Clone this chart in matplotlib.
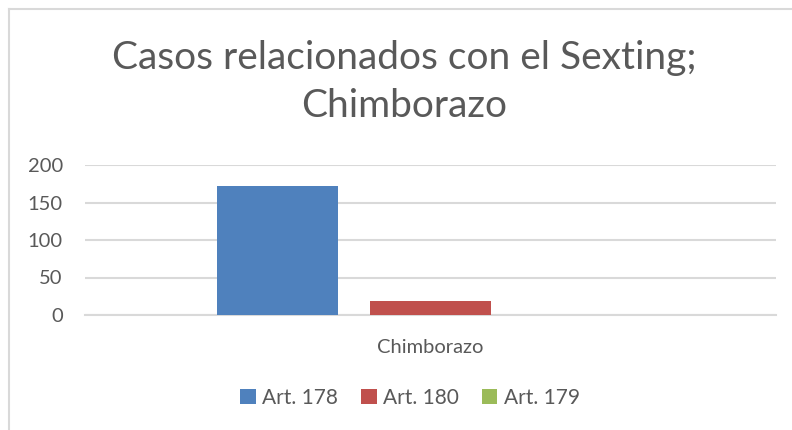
import matplotlib.pyplot as plt
from matplotlib.lines import Line2D
from matplotlib.patches import Patch

# data
categories = ["Chimborazo"]
series_names = ["Art. 178", "Art. 180", "Art. 179"]
series_values = [172, 19, 0]
series_colors = ["#4f81bd", "#c0504d", "#9bbb59"]
y_ticks = [0, 50, 100, 150, 200]

text_grey = "#595959"
grid_grey = "#d9d9d9"
plt.rcParams['font.family'] = ['Lato', 'DejaVu Sans']

fig = plt.figure(figsize=(7.92, 4.30), dpi=100)
W, H = 792, 430
# plot area in pixels: x 85..776, y 165..315
ax = fig.add_axes([85 / W, (H - 315) / H, (776 - 85) / W, 150 / H])

bar_w = 121
step = 153
for i, (name, val, col) in enumerate(zip(series_names, series_values, series_colors)):
    ax.bar((i - 1) * step, val, width=bar_w, color=col, label=name, zorder=3)

ax.set_xlim(-345, 346)
ax.set_ylim(0, 200)
ax.set_yticks(y_ticks)
ax.set_xticks([0])
ax.set_xticklabels(categories)
ax.tick_params(axis='both', length=0, labelsize=14.5, colors=text_grey)
ax.tick_params(axis='y', pad=16)
ax.tick_params(axis='x', pad=17)
ax.grid(axis='y', color=grid_grey, linewidth=1.5, zorder=0)
for side in ['top', 'right', 'left']:
    ax.spines[side].set_visible(False)
ax.spines['bottom'].set_color(grid_grey)
ax.spines['bottom'].set_linewidth(1.5)

fig.text(404 / W, 1 - 82 / H, "Casos relacionados con el Sexting;\nChimborazo",
         ha='center', va='center', fontsize=28, color=text_grey, linespacing=1.42)

handles = [Patch(facecolor=c, label=n) for n, c in zip(series_names, series_colors)]
fig.legend(handles=handles, loc='center', bbox_to_anchor=(410 / W, 1 - 398 / H),
           ncol=3, frameon=False, fontsize=15, labelcolor=text_grey,
           handlelength=0.75, handleheight=0.75, handletextpad=0.3, columnspacing=1.1)

# outer chart border
fig.add_artist(Line2D([8.5 / W, 8.5 / W], [0, 1 - 8.5 / H], color=grid_grey, linewidth=1.5))
fig.add_artist(Line2D([8.5 / W, 1], [1 - 8.5 / H, 1 - 8.5 / H], color=grid_grey, linewidth=1.5))

fig.savefig("out.png", dpi=100)
